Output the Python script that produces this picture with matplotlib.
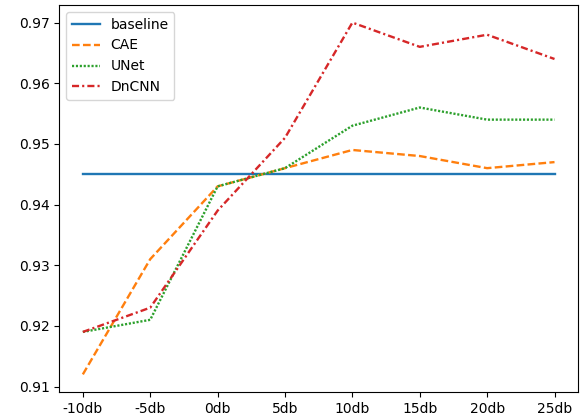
import matplotlib
matplotlib.use("Agg")
import matplotlib.pyplot as plt

snr = ['-10db', '-5db', '0db', '5db', '10db', '15db', '20db', '25db']
baseline = [0.945] * 8
cae = [0.912, 0.931, 0.943, 0.946, 0.949, 0.948, 0.946, 0.947]
unet = [0.919, 0.921, 0.943, 0.946, 0.953, 0.956, 0.954, 0.954]
dncnn = [0.919, 0.923, 0.939, 0.951, 0.970, 0.966, 0.968, 0.964]

lw = 1.7
fig, ax = plt.subplots(figsize=(5.81, 4.17), dpi=100)
ax.plot(snr, baseline, '-', lw=lw, label='baseline')
ax.plot(snr, cae, lw=lw, linestyle=(0, (3.25, 1.4)), label='CAE')
ax.plot(snr, unet, lw=lw, linestyle=(0, (0.9, 0.75)), label='UNet')
ax.plot(snr, dncnn, lw=lw, linestyle=(0, (3.0, 1.3, 0.9, 1.3)), label='DnCNN')
ax.legend(loc='upper left')
fig.subplots_adjust(left=0.102, right=0.995, bottom=0.06, top=0.988)
fig.savefig('out.png')
